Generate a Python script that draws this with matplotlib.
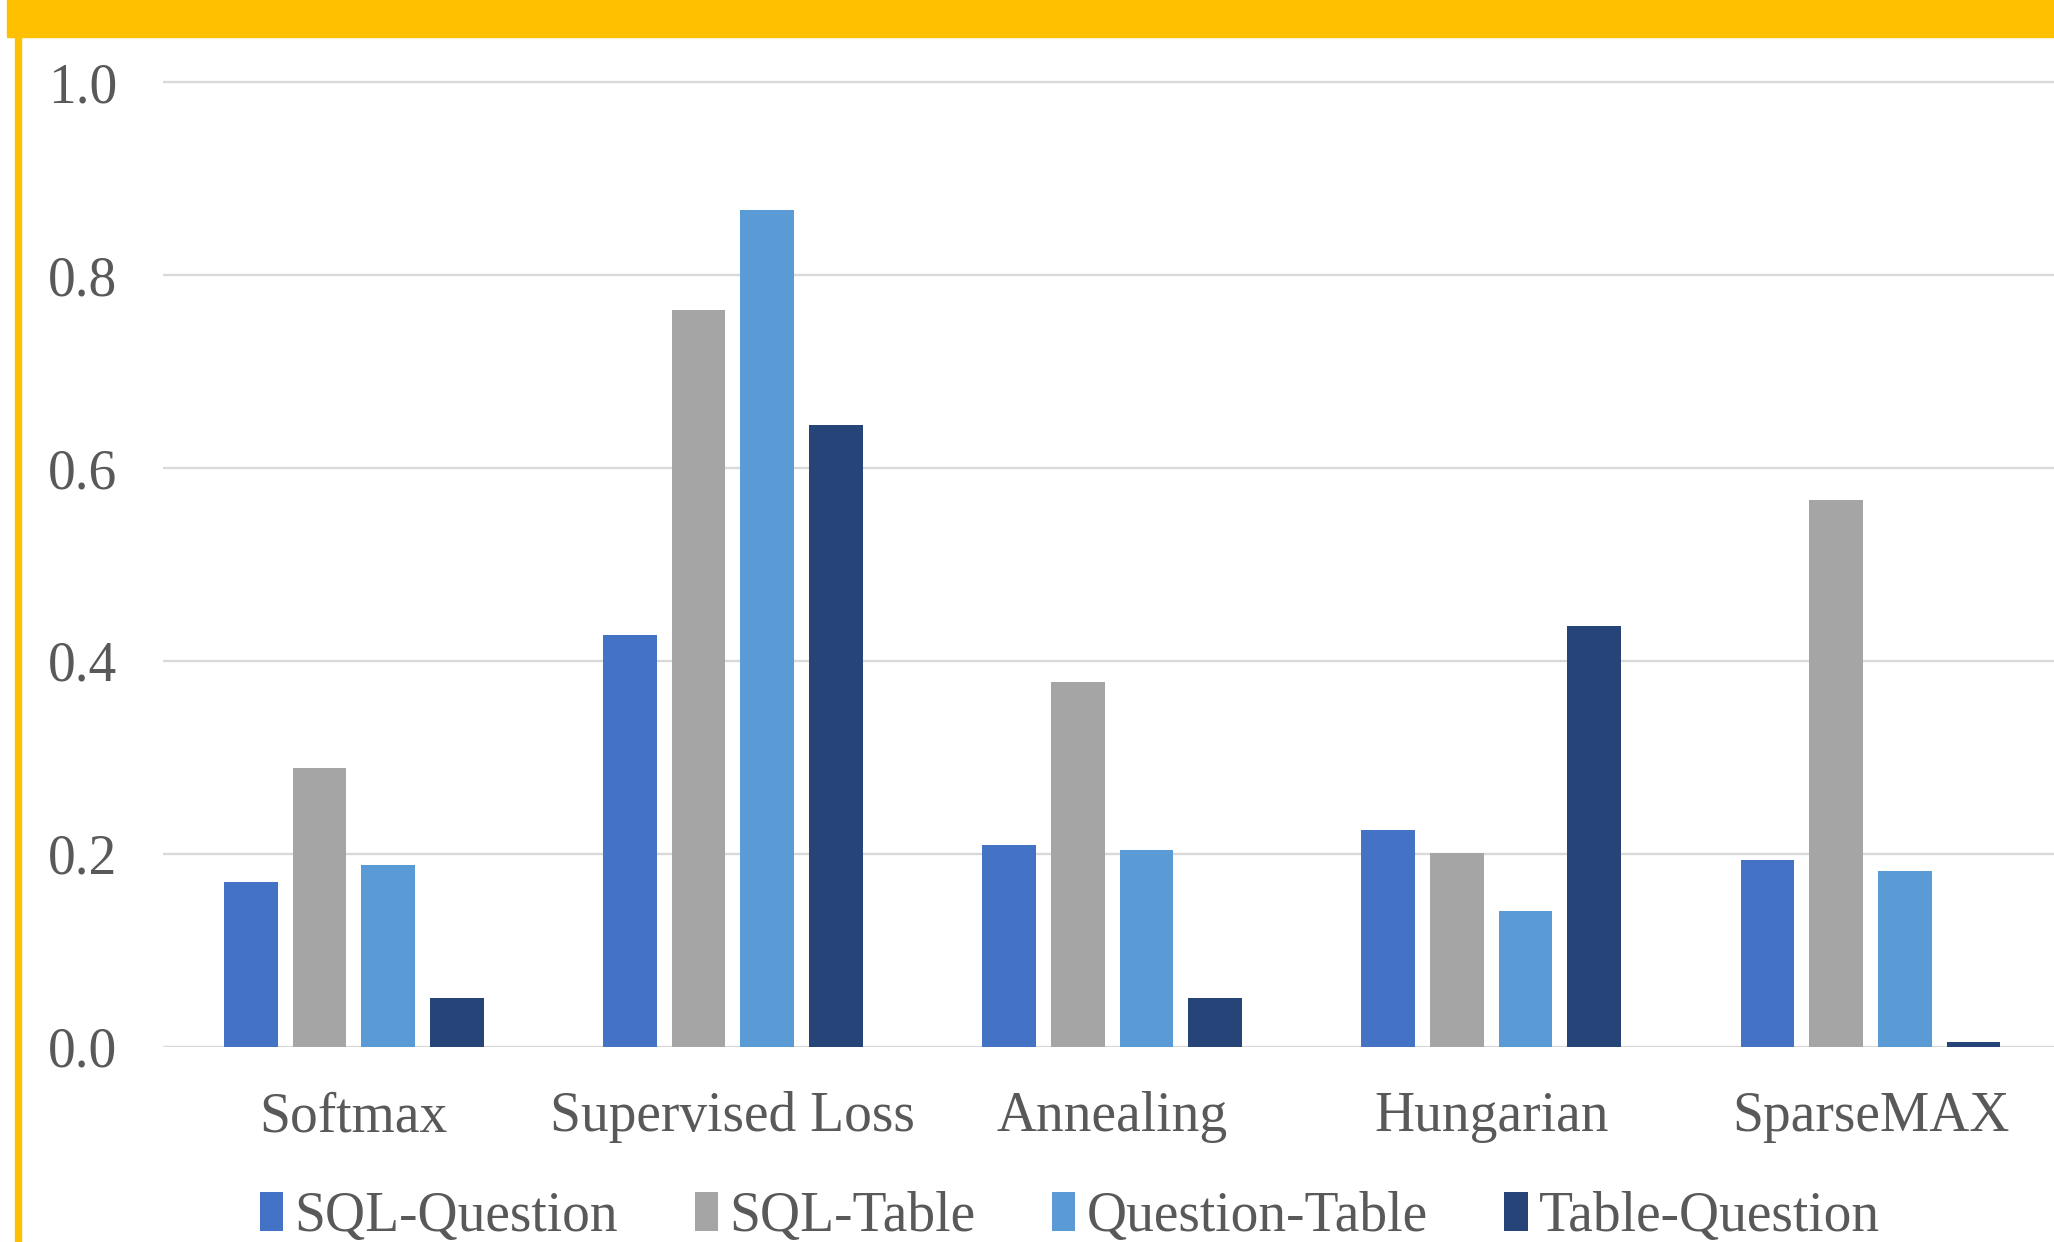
import matplotlib
matplotlib.use("Agg")
import matplotlib.pyplot as plt
from matplotlib.patches import Rectangle
import numpy as np

plt.rcParams['font.family'] = ['Liberation Serif', 'DejaVu Serif']

categories = ["Softmax", "Supervised Loss", "Annealing", "Hungarian", "SparseMAX"]
series_names = ["SQL-Question", "SQL-Table", "Question-Table", "Table-Question"]
sql_question = [0.171, 0.427, 0.209, 0.225, 0.194]
sql_table = [0.289, 0.764, 0.378, 0.201, 0.567]
question_table = [0.188, 0.868, 0.204, 0.141, 0.182]
table_question = [0.050, 0.645, 0.050, 0.436, 0.005]
y_ticks = [0.0, 0.2, 0.4, 0.6, 0.8, 1.0]

colors = ["#4472C4", "#A5A5A5", "#5B9BD5", "#264478"]
text_color = "#595959"
grid_color = "#D9D9D9"
banner_color = "#FFC000"

W, H = 2054, 1242
fig = plt.figure(figsize=(W / 100, H / 100), dpi=100)

# plot area in pixel terms
left_px, right_px = 163, 2054
zero_px, one_px = 1046.6, 82.5
unit_px = zero_px - one_px
ymax = 1.01
top_px = zero_px - unit_px * ymax
ax = fig.add_axes([left_px / W, (H - zero_px) / H,
                   (right_px - left_px) / W, (zero_px - top_px) / H])

x = np.arange(len(categories))
width = 0.1416
pitch = 0.181
for i, (vals, name, c) in enumerate(zip(
        [sql_question, sql_table, question_table, table_question],
        series_names, colors)):
    ax.bar(x + (i - 1.5) * pitch, vals, width=width, color=c, label=name,
           zorder=3)

ax.set_xlim(-0.503, 4.484)
ax.set_ylim(0, ymax)
ax.set_yticks(y_ticks)
ax.set_yticklabels([f"{v:.1f}" for v in y_ticks])
ax.set_xticks(x)
ax.set_xticklabels(categories)
ax.tick_params(axis='both', length=0, labelsize=40, labelcolor=text_color)
ax.tick_params(axis='y', pad=33)
ax.tick_params(axis='x', pad=32)
ax.yaxis.grid(True, color=grid_color, linewidth=1.7, zorder=0)
ax.set_axisbelow(True)
for s in ax.spines.values():
    s.set_visible(False)

leg = ax.legend(loc='center', bbox_to_anchor=(1070 / W, 25 / H),
                bbox_transform=fig.transFigure, ncol=4, frameon=False,
                fontsize=40, handlelength=0.42, handleheight=0.7,
                handletextpad=0.2, columnspacing=1.38, borderpad=0)
for t in leg.get_texts():
    t.set_color(text_color)

# yellow banner and side rule
fig.patches.append(Rectangle((7 / W, 1 - 37 / H), 1 - 7 / W, 37 / H,
                             transform=fig.transFigure, color=banner_color,
                             zorder=10))
fig.patches.append(Rectangle((15 / W, 0), 6 / W, 1 - 37 / H,
                             transform=fig.transFigure, color=banner_color,
                             zorder=10))

fig.savefig("out.png", dpi=100)
